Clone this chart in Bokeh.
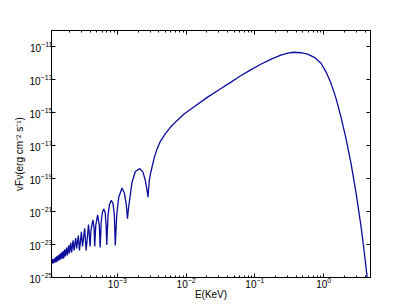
from bokeh.plotting import figure
from bokeh.models import FixedTicker, LogAxis, CustomJSTickFormatter
from bokeh.embed import file_html
from bokeh.resources import INLINE

# log10(E / keV) and log10(nu F_nu / erg cm^-2 s^-1)
log_energy = [
    -3.974, -3.955, -3.949, -3.939, -3.931, -3.920, -3.912, -3.901, -3.893, -3.882,
    -3.873, -3.861, -3.853, -3.838, -3.829, -3.815, -3.806, -3.791, -3.783, -3.766,
    -3.756, -3.739, -3.727, -3.709, -3.698, -3.679, -3.666, -3.645, -3.631, -3.607,
    -3.593, -3.568, -3.552, -3.524, -3.507, -3.476, -3.455, -3.420, -3.397, -3.385,
    -3.356, -3.339, -3.330, -3.315, -3.288, -3.263, -3.251, -3.236, -3.219, -3.199,
    -3.178, -3.164, -3.155, -3.137, -3.115, -3.091, -3.064, -3.044, -3.031, -3.010,
    -2.981, -2.933, -2.898, -2.869, -2.854, -2.839, -2.823, -2.788, -2.740, -2.674,
    -2.628, -2.594, -2.569, -2.555, -2.546, -2.536, -2.521, -2.496, -2.463, -2.423,
    -2.375, -2.302, -2.229, -2.131, -2.035, -1.889, -1.693, -1.499, -1.353, -1.207,
    -1.061, -0.915, -0.769, -0.623, -0.521, -0.434, -0.331, -0.234, -0.137, -0.039,
    0.034, 0.107, 0.180, 0.253, 0.326, 0.399, 0.472, 0.545, 0.593, 0.632, 0.661,
]
log_nufnu = [
    -24.18, -23.94, -24.15, -23.88, -24.15, -23.85, -24.09, -23.78, -24.09, -23.72,
    -24.03, -23.66, -23.97, -23.57, -23.91, -23.48, -23.85, -23.39, -23.85, -23.30,
    -23.72, -23.18, -23.66, -23.05, -23.54, -22.90, -23.48, -22.75, -23.36, -22.60,
    -23.24, -22.45, -23.36, -22.23, -23.12, -22.02, -23.36, -21.78, -23.12, -22.14,
    -21.50, -22.02, -23.12, -21.84, -21.20, -21.84, -23.18, -21.66, -21.05, -20.84,
    -21.05, -21.84, -23.02, -21.23, -20.56, -20.32, -20.50, -21.23, -23.05, -21.23,
    -20.14, -19.56, -19.89, -20.62, -21.43, -20.81, -20.32, -19.23, -18.56, -18.39,
    -18.60, -19.10, -19.71, -20.12, -19.59, -19.10, -18.74, -18.29, -17.71, -17.19,
    -16.73, -16.26, -15.88, -15.46, -15.09, -14.64, -14.06, -13.54, -13.15, -12.75,
    -12.39, -12.05, -11.75, -11.50, -11.38, -11.32, -11.35, -11.44, -11.63, -11.99,
    -12.51, -13.21, -14.12, -15.27, -16.58, -18.10, -19.89, -21.94, -23.54, -24.98, -25.91,
]
energy = [10.0 ** v for v in log_energy]
nufnu = [10.0 ** v for v in log_nufnu]

x_limits = (1.1e-4, 4.8)
y_limits = (1e-25, 1e-10)
x_major = [1e-3, 1e-2, 1e-1, 1e0]
x_minor = [m * 10.0 ** d for d in range(-4, 1) for m in range(2, 10)]
y_major = [1e-25, 1e-23, 1e-21, 1e-19, 1e-17, 1e-15, 1e-13, 1e-11]

FONT = "Liberation Sans"

p = figure(
    frame_width=319, frame_height=247,
    x_axis_type="log", y_axis_type="log",
    x_range=x_limits, y_range=y_limits,
    output_backend="svg", toolbar_location=None,
    min_border_left=51, min_border_top=30, min_border_right=35, min_border_bottom=10,
)
p.background_fill_color = "white"
p.border_fill_color = "white"
p.outline_line_color = "black"
p.outline_line_width = 1
p.grid.visible = False

p.line(energy, nufnu, line_color="#0c0c9c", line_width=1.3)

p.xaxis.ticker = FixedTicker(ticks=x_major, minor_ticks=x_minor)
p.yaxis.ticker = FixedTicker(ticks=y_major, minor_ticks=[])
p.xaxis.axis_label = "E(KeV)"
p.yaxis.axis_label = "\u03bdF\u03bd(erg cm\u207b\u00b2 s\u207b\u00b9)"

for ax in [p.xaxis[0], p.yaxis[0]]:
    ax.major_tick_in = 4
    ax.major_tick_out = 0
    ax.minor_tick_in = 2
    ax.minor_tick_out = 0
    ax.axis_line_color = "black"
    ax.major_tick_line_color = "black"
    ax.minor_tick_line_color = "black"
    ax.major_label_text_font = FONT
    ax.major_label_text_font_size = "10px"
    ax.major_label_text_color = "black"
    ax.axis_label_text_font = FONT
    ax.axis_label_text_font_size = "10px"
    ax.axis_label_text_font_style = "normal"
    ax.axis_label_text_color = "black"

p.xaxis.major_label_standoff = -1
p.xaxis.axis_label_standoff = -2
p.yaxis.major_label_standoff = -1
p.yaxis.axis_label_standoff = 2

blank = CustomJSTickFormatter(code="return ''")
top = LogAxis(ticker=FixedTicker(ticks=x_major, minor_ticks=x_minor), formatter=blank)
right = LogAxis(ticker=FixedTicker(ticks=y_major, minor_ticks=[]), formatter=blank)
for ax in [top, right]:
    ax.major_tick_in = 4
    ax.major_tick_out = 0
    ax.minor_tick_in = 2
    ax.minor_tick_out = 0
    ax.axis_line_color = "black"
    ax.major_label_standoff = 0
    ax.major_label_text_font_size = "1px"
p.add_layout(top, "above")
p.add_layout(right, "right")

open("out.html", "w").write(file_html(p, INLINE))
